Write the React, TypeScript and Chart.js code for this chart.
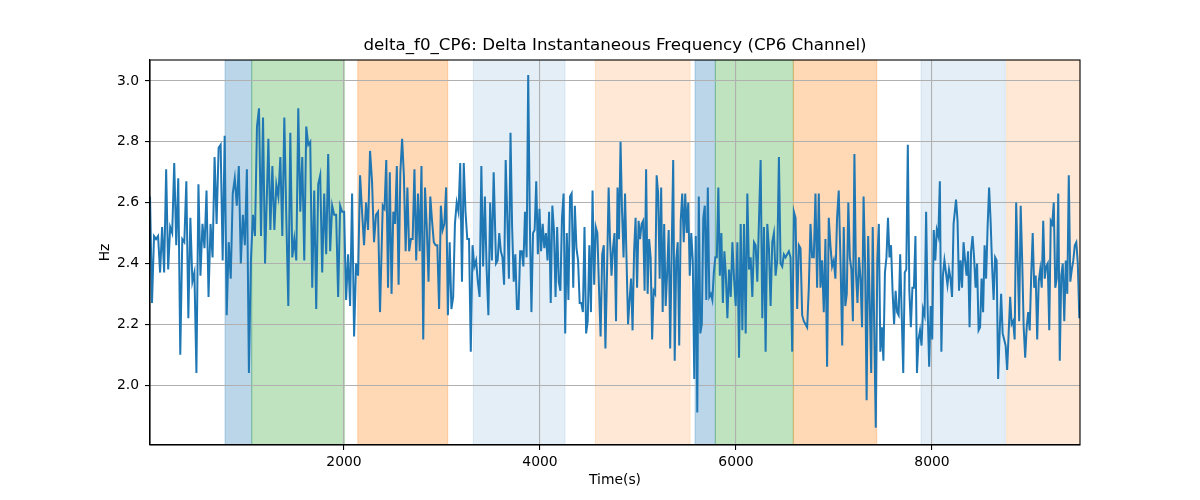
import { useEffect, useRef } from 'react'
import { Chart, registerables } from 'chart.js'

Chart.register(...registerables)

// readings of the curve, one block per stretch of the time axis
const seg1 = [2.62, 2.27, 2.49, 2.48, 2.49, 2.37, 2.52, 2.37, 2.71, 2.38, 2.52, 2.50, 2.73, 2.46, 2.68, 2.10, 2.48, 2.47, 2.67, 2.22, 2.55, 2.34, 2.37, 2.04, 2.66, 2.36, 2.53, 2.45, 2.64, 2.29, 2.53, 2.42, 2.75, 2.53, 2.78, 2.79, 2.41, 2.82, 2.23, 2.47, 2.35, 2.63, 2.68, 2.59, 2.72, 2.40, 2.56, 2.46, 2.71, 2.04, 2.41, 2.56, 2.49, 2.85, 2.91, 2.49, 2.88, 2.40]
const seg2 = [2.81, 2.51, 2.72, 2.51, 2.66, 2.62, 2.75, 2.49, 2.88, 2.55, 2.26, 2.83, 2.42, 2.48, 2.41, 2.91, 2.57, 2.75, 2.41, 2.85, 2.79, 2.80, 2.32, 2.64, 2.25, 2.66, 2.69, 2.37, 2.63, 2.43, 2.76, 2.44, 2.59, 2.56, 2.56, 2.29, 2.59, 2.57, 2.57, 2.28, 2.43, 2.26, 2.63, 2.16, 2.40, 2.36, 2.69, 2.57, 2.46, 2.60, 2.51, 2.77, 2.67, 2.47, 2.56, 2.57, 2.24]
const seg3 = [2.59, 2.58, 2.74, 2.32, 2.70, 2.30, 2.57, 2.53, 2.72, 2.33, 2.70, 2.81, 2.69, 2.44, 2.65, 2.44, 2.48, 2.48, 2.71, 2.41, 2.63, 2.44, 2.72, 2.15, 2.65, 2.52, 2.34, 2.62, 2.54, 2.47, 2.46, 2.46, 2.25, 2.59, 2.51, 2.53, 2.65, 2.23, 2.47, 2.25, 2.29, 2.53, 2.60, 2.57, 2.73, 2.34, 2.73, 2.57, 2.48, 2.48, 2.11, 2.46, 2.39, 2.41, 2.34, 2.29, 2.72, 2.39, 2.62, 2.38, 2.23, 2.60, 2.41, 2.70]
const seg4 = [2.40, 2.41, 2.50, 2.44, 2.42, 2.33, 2.74, 2.55, 2.35, 2.83, 2.52, 2.34, 2.43, 2.25, 2.25, 2.44, 2.44, 2.39, 2.57, 2.42, 3.02, 2.54, 2.24, 2.50, 2.51, 2.67, 2.43, 2.58, 2.44, 2.53, 2.45, 2.50, 2.41, 2.57, 2.27, 2.59, 2.51, 2.29, 2.52, 2.34, 2.31, 2.55, 2.63, 2.17, 2.50, 2.28, 2.62, 2.63, 2.32, 2.59, 2.45, 2.41, 2.27, 2.27, 2.24, 2.52, 2.17, 2.21, 2.46, 2.24, 2.64, 2.33, 2.52, 2.50, 2.32, 2.16, 2.43, 2.46, 2.12, 2.37, 2.65]
const seg5 = [2.48, 2.36, 2.45, 2.50, 2.21, 2.65, 2.48, 2.80, 2.57, 2.42, 2.63, 2.41, 2.20, 2.28, 2.35, 2.18, 2.44, 2.55, 2.32, 2.54, 2.48, 2.53, 2.54, 2.31, 2.71, 2.30, 2.48, 2.42, 2.15, 2.31, 2.30, 2.69, 2.63, 2.35, 2.65, 2.24, 2.53, 2.26, 2.37, 2.51, 2.12, 2.45, 2.74, 2.08, 2.41, 2.47, 2.13, 2.54, 2.63, 2.47, 2.63, 2.50, 2.60, 2.36, 2.50, 2.41, 2.02, 2.49, 1.91, 2.62, 2.17, 2.20, 2.55, 2.59, 2.28, 2.65, 2.29, 2.30, 2.28, 2.37, 2.42, 2.42, 2.65, 2.36, 2.50, 2.27, 2.44]
const seg6 = [2.37, 2.22, 2.38, 2.29, 2.47, 2.35, 2.26, 2.47, 2.09, 2.53, 2.18, 2.53, 2.17, 2.63, 2.38, 2.42, 2.29, 2.47, 2.46, 2.34, 2.54, 2.74, 2.22, 2.52, 2.11, 2.53, 2.45, 2.26, 2.47, 2.50, 2.36, 2.41, 2.75, 2.40, 2.39, 2.43, 2.42, 2.43, 2.44, 2.42, 2.11, 2.57, 2.55, 2.25, 2.46, 2.45, 2.23, 2.21, 2.20, 2.19, 2.32, 2.53, 2.42, 2.42, 2.63, 2.32, 2.63, 2.32, 2.41, 2.24, 2.48, 2.06, 2.55, 2.46, 2.39, 2.41, 2.35, 2.55, 2.64]
const seg7 = [2.38, 2.13, 2.52, 2.26, 2.30, 2.60, 2.42, 2.38, 2.21, 2.76, 2.37, 2.27, 2.42, 2.35, 2.19, 2.62, 2.40, 1.95, 2.49, 2.28, 2.04, 2.52, 2.18, 1.86, 2.41, 2.53, 2.11, 2.19, 2.08, 2.37, 2.42, 2.55, 2.42, 2.46, 2.31, 2.20, 2.31, 2.24, 2.23, 2.43, 2.23, 2.04, 2.37, 2.38, 2.79, 2.31, 2.19, 2.32, 2.32, 2.49, 2.04, 2.15, 2.18, 2.13, 2.25, 2.23, 2.57, 2.25, 2.06, 2.26, 2.15, 2.51, 2.41, 2.51, 2.49, 2.67, 2.11, 2.36, 2.41, 2.37, 2.33, 2.38, 2.35, 2.29, 2.53]
const seg8 = [2.61, 2.54, 2.31, 2.41, 2.32, 2.47, 2.41, 2.36, 2.44, 2.19, 2.44, 2.49, 2.42, 2.32, 2.40, 2.18, 2.19, 2.35, 2.24, 2.46, 2.35, 2.52, 2.65, 2.54, 2.39, 2.28, 2.42, 2.41, 2.02, 2.17, 2.30, 2.17, 2.15, 2.13, 2.05, 2.17, 2.29, 2.20, 2.21, 2.15, 2.60, 2.41, 2.21, 2.59, 2.41, 2.19, 2.09, 2.19, 2.24, 2.18, 2.36, 2.50, 2.32, 2.36, 2.15, 2.34, 2.38, 2.32, 2.54, 2.35, 2.39, 2.40, 2.18, 2.54, 2.53, 2.60, 2.32, 2.35, 2.63, 2.08, 2.36, 2.40, 2.21, 2.41, 2.30, 2.69, 2.34, 2.38, 2.41, 2.46, 2.47, 2.40, 2.22]

const segments = [seg1, seg2, seg3, seg4, seg5, seg6, seg7, seg8]
// time (s) of the first and last reading in each block
const segStart = [20, 1228, 2395, 3551, 4714, 5895, 7068, 8245]
const segEnd = [1194, 2367, 3527, 4700, 5881, 7048, 8220, 9503]

// shaded intervals
const spanStart = [786, 1058, 2140, 3320, 4565, 5582, 5789, 6585, 7888, 8762]
const spanEnd = [1058, 2003, 3058, 4255, 5531, 5789, 6585, 7436, 8748, 9510]
const spanColor = [
  'rgba(31,119,180,0.3)',
  'rgba(44,160,44,0.3)',
  'rgba(255,127,14,0.3)',
  'rgba(31,119,180,0.12)',
  'rgba(255,127,14,0.17)',
  'rgba(31,119,180,0.3)',
  'rgba(44,160,44,0.3)',
  'rgba(255,127,14,0.3)',
  'rgba(31,119,180,0.12)',
  'rgba(255,127,14,0.17)',
]

const xTicks = [2000, 4000, 6000, 8000]
const yTicks = [2.0, 2.2, 2.4, 2.6, 2.8, 3.0]

const TITLE = 'delta_f0_CP6: Delta Instantaneous Frequency (CP6 Channel)'
const FONT = 'DejaVu Sans'

function buildPoints() {
  const pts: { x: number; y: number }[] = []
  segments.forEach((seg, s) => {
    const step = (segEnd[s] - segStart[s]) / (seg.length - 1)
    seg.forEach((v, i) => pts.push({ x: segStart[s] + i * step, y: v }))
  })
  return pts
}

const spansPlugin = {
  id: 'spans',
  beforeDraw(chart: any) {
    const { ctx, chartArea, scales } = chart
    ctx.save()
    ctx.beginPath()
    ctx.rect(chartArea.left, chartArea.top, chartArea.right - chartArea.left, chartArea.bottom - chartArea.top)
    ctx.clip()
    spanStart.forEach((s, i) => {
      const x0 = scales.x.getPixelForValue(s)
      const x1 = scales.x.getPixelForValue(spanEnd[i])
      ctx.fillStyle = spanColor[i]
      ctx.fillRect(x0, chartArea.top, x1 - x0, chartArea.bottom - chartArea.top)
      ctx.strokeStyle = spanColor[i]
      ctx.lineWidth = 1
      ctx.strokeRect(x0, chartArea.top, x1 - x0, chartArea.bottom - chartArea.top)
    })
    ctx.restore()
  },
}

const framePlugin = {
  id: 'frame',
  afterDatasetsDraw(chart: any) {
    const { ctx, chartArea } = chart
    ctx.save()
    ctx.strokeStyle = '#000'
    ctx.lineWidth = 1.1
    ctx.strokeRect(chartArea.left, chartArea.top, chartArea.right - chartArea.left, chartArea.bottom - chartArea.top)
    ctx.fillStyle = '#000'
    ctx.font = `16.7px "${FONT}"`
    ctx.textAlign = 'center'
    ctx.textBaseline = 'middle'
    ctx.fillText(TITLE, (chartArea.left + chartArea.right) / 2, 46)
    ctx.restore()
  },
}

function DeltaChart() {
  const canvasRef = useRef<HTMLCanvasElement | null>(null)

  useEffect(() => {
    const chart = new Chart(canvasRef.current as HTMLCanvasElement, {
      type: 'line',
      data: {
        datasets: [
          {
            data: buildPoints(),
            borderColor: '#1f77b4',
            borderWidth: 2,
            pointRadius: 0,
            tension: 0,
            fill: false,
          },
        ],
      },
      options: {
        animation: false,
        responsive: false,
        events: [],
        layout: { padding: { top: 60, left: 93, right: 120, bottom: 7 } },
        plugins: {
          legend: { display: false },
          title: { display: false },
          tooltip: { enabled: false },
        },
        scales: {
          x: {
            type: 'linear',
            min: 20,
            max: 9510,
            afterFit: (scale: any) => {
              scale.height = 48
            },
            afterBuildTicks: (scale: any) => {
              scale.ticks = xTicks.map((v) => ({ value: v }))
            },
            grid: { color: '#b0b0b0', lineWidth: 1.1, tickColor: '#000', tickLength: 5 },
            border: { display: true, color: '#000', width: 1.1 },
            ticks: {
              color: '#000',
              padding: 4,
              maxRotation: 0,
              font: { family: FONT, size: 13.9 },
              callback: (v: any) => String(v),
            },
            title: {
              display: true,
              text: 'Time(s)',
              color: '#000',
              font: { family: FONT, size: 13.9 },
            },
          },
          y: {
            type: 'linear',
            min: 1.803,
            max: 3.069,
            afterFit: (scale: any) => {
              scale.width = 57
            },
            afterBuildTicks: (scale: any) => {
              scale.ticks = yTicks.map((v) => ({ value: v }))
            },
            grid: { color: '#b0b0b0', lineWidth: 1.1, tickColor: '#000', tickLength: 5 },
            border: { display: true, color: '#000', width: 1.1 },
            ticks: {
              color: '#000',
              padding: 6,
              font: { family: FONT, size: 13.9 },
              callback: (v: any) => Number(v).toFixed(1),
            },
            title: {
              display: true,
              text: 'Hz',
              color: '#000',
              font: { family: FONT, size: 13.9 },
            },
          },
        },
      },
      plugins: [spansPlugin, framePlugin],
    })

    return () => {
      chart.destroy()
    }
  }, [])

  return (
    <div style={{ position: 'absolute', left: 0, top: 0, width: 1200, height: 500, background: '#fff' }}>
      <canvas ref={canvasRef} width={1200} height={500} style={{ display: 'block' }} />
    </div>
  )
}

export default function App() {
  return <DeltaChart />
}
